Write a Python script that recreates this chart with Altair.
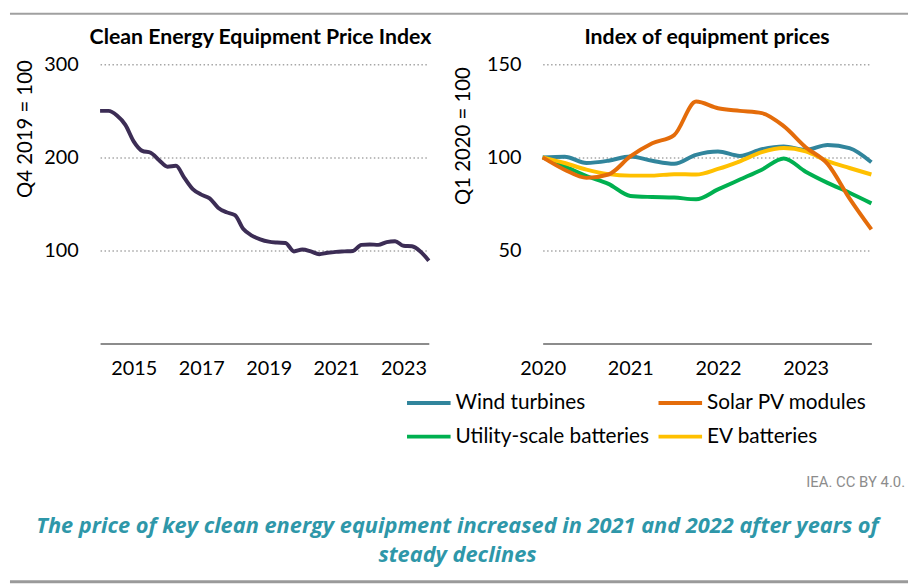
import altair as alt
import pandas as pd

# ---------------- data ----------------
left_start_year = 2014  # quarterly, 2014 Q1 .. 2023 Q4
left_values = [250, 250, 245, 235, 217, 207, 205, 197, 190, 191,
               178, 166, 160, 156, 146, 141, 138, 123, 116, 112,
               109.5, 108.5, 108, 99, 101, 99, 96, 97.5, 98.5, 99,
               99.5, 106, 106.5, 106, 109, 110, 105, 104.5, 99, 89]

right_start_year = 2020  # quarterly, 2020 Q1 .. 2023 Q4
series_names = ["Wind turbines", "Solar PV modules", "Utility-scale batteries", "EV batteries"]
series_colors = ["#31859c", "#e46c0a", "#00b050", "#ffc000"]
wind = [100, 100.4, 97, 98.2, 100.5, 98.2, 96.6, 101.4, 103.2, 100.8, 104.4, 105.9, 104, 106.7, 105, 97.4]
solar = [100, 93.4, 89, 90.8, 100.5, 107.6, 112, 130, 126.4, 125, 123.8, 116.8, 105.5, 96.5, 78, 61.3]
utility = [100, 95.2, 90, 85.8, 79.3, 78.7, 78.4, 77.5, 82.8, 88.1, 93.4, 99.4, 92.3, 86.3, 81, 75.3]
ev = [100, 97, 93.4, 91, 90.2, 90.2, 91, 90.8, 93.8, 97.9, 102.8, 105, 103.2, 98, 94.3, 90.8]

left_title = "Clean Energy Equipment Price Index"
right_title = "Index of equipment prices"
left_ytitle = "Q4 2019 = 100"
right_ytitle = "Q1 2020 = 100"
left_ticks = [2015, 2017, 2019, 2021, 2023]
right_ticks = [2020, 2021, 2022, 2023]
left_yticks = [100, 200, 300]
right_yticks = [50, 100, 150]
source_note = "IEA. CC BY 4.0."
caption = ["The price of key clean energy equipment increased in 2021 and 2022 after years of",
           "steady declines"]

# ---------------- tables ----------------
left_df = pd.DataFrame({
    "t": [left_start_year + i / 4 for i in range(len(left_values))],
    "v": left_values,
})

draw_order = ["Wind turbines", "Utility-scale batteries", "EV batteries", "Solar PV modules"]
series_map = dict(zip(series_names, [wind, solar, utility, ev]))
rows = []
for name in draw_order:
    for i, val in enumerate(series_map[name]):
        rows.append({"series": name, "t": right_start_year + i / 4, "v": val})
right_df = pd.DataFrame(rows)

one = pd.DataFrame({"a": [0]})

FONT = "Lato"
GRID = "#a6a6a6"


def y_axis(values, title_x, title_y):
    return alt.Axis(values=values, grid=True, gridColor=GRID, gridDash=[1.5, 2.5], gridWidth=1.5,
                    ticks=False, domain=False, labelFont=FONT, labelFontSize=20, labelColor="#000",
                    labelPadding=22, titleFont=FONT, titleFontSize=20.5, titleFontWeight="normal",
                    titleColor="#000", titleX=title_x, titleY=title_y, titleAngle=-90,
                    titleAlign="center", titleBaseline="middle")


def x_axis(values):
    return alt.Axis(values=values, format="d", grid=False, ticks=False, domain=True,
                    domainColor="#1a1a1a", domainWidth=1.2, labelFont=FONT, labelFontSize=20,
                    labelColor="#000", labelPadding=15, labelFlush=False, title=None)


def panel_title(text, dx=0, dy=0):
    return alt.TitleParams(text, font=FONT, fontSize=21.5, fontWeight="bold", color="#000",
                           anchor="middle", frame="group", offset=18, dx=dx, dy=dy)


# ---------------- left panel ----------------
left_line = alt.Chart(left_df).mark_line(color="#3c2d55", strokeWidth=4, interpolate="monotone").encode(
    x=alt.X("t:Q", scale=alt.Scale(domain=[2014, 2023.75], nice=False, zero=False), axis=x_axis(left_ticks)),
    y=alt.Y("v:Q", scale=alt.Scale(domain=[0, 300], nice=False), axis=y_axis(left_yticks, -75, 65),
            title=left_ytitle),
)

top_border = alt.Chart(one).mark_rule(color="#a0a0a0", strokeWidth=2).encode(
    x=alt.value(-91), x2=alt.value(816), y=alt.value(-51))
bottom_border = alt.Chart(one).mark_rule(color="#9a9a9a", strokeWidth=3).encode(
    x=alt.value(-91), x2=alt.value(816), y=alt.value(522.5))
note = alt.Chart(one).mark_text(align="right", baseline="middle", font="Roboto",
                                fontSize=15, color="#8c8c8c").encode(
    x=alt.value(813), y=alt.value(422), text=alt.value(source_note))
cap = alt.Chart(one).mark_text(align="center", baseline="middle", font="Open Sans", fontSize=22,
                               fontStyle="italic", fontWeight="bold", color="#2e97a9",
                               lineHeight=30).encode(
    x=alt.value(361), y=alt.value(466), text=alt.value(caption))

left = alt.layer(left_line, top_border, bottom_border, note, cap).properties(
    width=332, height=282, title=panel_title(left_title, -4, 54))

# ---------------- right panel ----------------
right = alt.Chart(right_df).mark_line(strokeWidth=4, interpolate="monotone").encode(
    x=alt.X("t:Q", scale=alt.Scale(domain=[2020, 2023.75], nice=False, zero=False), axis=x_axis(right_ticks)),
    y=alt.Y("v:Q", scale=alt.Scale(domain=[0, 150], nice=False), axis=y_axis(right_yticks, -80, 72),
            title=right_ytitle),
    color=alt.Color("series:N", scale=alt.Scale(domain=series_names, range=series_colors),
                    legend=alt.Legend(orient="none", legendX=-139, legendY=318, columns=2,
                                      direction="horizontal",
                                      symbolType="stroke", symbolSize=1936, symbolStrokeWidth=4,
                                      labelFont=FONT, labelFontSize=21, labelColor="#000",
                                      labelOffset=3, columnPadding=1, rowPadding=-10,
                                      padding=0, title=None, labelLimit=400)),
).properties(width=332, height=282, title=panel_title(right_title, 0, 12))

chart = alt.hconcat(left, right, spacing=115, bounds="flush").resolve_scale(
    color="independent").resolve_legend(color="independent").properties(
    padding={"left": 0, "top": 2, "right": 0, "bottom": 0}
).configure(background="white").configure_view(stroke=None)

chart.save("out.html", embed_options={"renderer": "svg", "actions": False})
